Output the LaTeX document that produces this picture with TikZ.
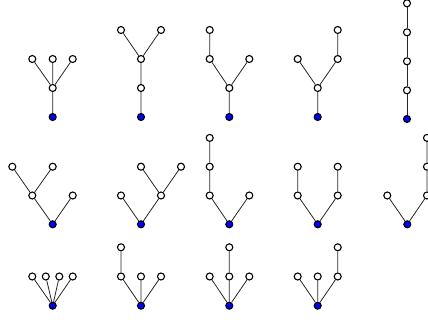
\documentclass[tikz,border=0pt]{standalone}
\begin{document}
\begin{tikzpicture}[x=1pt,y=-1pt,
  vtx/.style={circle,draw=black,fill=white,inner sep=0pt,minimum size=7pt,line width=1.1pt},
  rootv/.style={vtx,fill=blue},
  edg/.style={line width=0.8pt,draw=black!85}]
\useasboundingbox (0,0) rectangle (428,320);
% ---------- Row 1 ----------
% Tree 1
\node[rootv] (t1r) at (52.7,117) {};
\node[vtx] (t1a) at (52.7,88) {};
\node[vtx] (t1b) at (32.3,59) {};
\node[vtx] (t1c) at (52.7,59) {};
\node[vtx] (t1d) at (72.7,59) {};
\draw[edg] (t1r)--(t1a) (t1a)--(t1b) (t1a)--(t1c) (t1a)--(t1d);
% Tree 2
\node[rootv] (t2r) at (141,117) {};
\node[vtx] (t2a) at (141,88) {};
\node[vtx] (t2b) at (141,59) {};
\node[vtx] (t2c) at (121,30) {};
\node[vtx] (t2d) at (161,30) {};
\draw[edg] (t2r)--(t2a) (t2a)--(t2b) (t2b)--(t2c) (t2b)--(t2d);
% Tree 3
\node[rootv] (t3r) at (229.3,117) {};
\node[vtx] (t3a) at (229.3,88) {};
\node[vtx] (t3b) at (209.7,59) {};
\node[vtx] (t3c) at (249.3,59) {};
\node[vtx] (t3d) at (209.7,30) {};
\draw[edg] (t3r)--(t3a) (t3a)--(t3b) (t3a)--(t3c) (t3b)--(t3d);
% Tree 4
\node[rootv] (t4r) at (317.7,117) {};
\node[vtx] (t4a) at (317.7,88) {};
\node[vtx] (t4b) at (297.7,59) {};
\node[vtx] (t4c) at (337.7,59) {};
\node[vtx] (t4d) at (337.7,30) {};
\draw[edg] (t4r)--(t4a) (t4a)--(t4b) (t4a)--(t4c) (t4c)--(t4d);
% Tree 5
\node[rootv] (t5r) at (407,119) {};
\node[vtx] (t5a) at (407,90.3) {};
\node[vtx] (t5b) at (407,61.3) {};
\node[vtx] (t5c) at (407,32.3) {};
\node[vtx] (t5d) at (407,3.3) {};
\draw[edg] (t5r)--(t5a) (t5a)--(t5b) (t5b)--(t5c) (t5c)--(t5d);
% ---------- Row 2 ----------
% Tree 6
\node[rootv] (t6r) at (52.7,224.3) {};
\node[vtx] (t6a) at (32.3,195.5) {};
\node[vtx] (t6b) at (72.7,195.5) {};
\node[vtx] (t6c) at (12.3,166.7) {};
\node[vtx] (t6d) at (52.7,166.7) {};
\draw[edg] (t6r)--(t6a) (t6r)--(t6b) (t6a)--(t6c) (t6a)--(t6d);
% Tree 7
\node[rootv] (t7r) at (141,224.3) {};
\node[vtx] (t7a) at (121,195.5) {};
\node[vtx] (t7b) at (161,195.5) {};
\node[vtx] (t7c) at (141,166.7) {};
\node[vtx] (t7d) at (181,166.7) {};
\draw[edg] (t7r)--(t7a) (t7r)--(t7b) (t7b)--(t7c) (t7b)--(t7d);
% Tree 8
\node[rootv] (t8r) at (229.3,224.3) {};
\node[vtx] (t8a) at (209.7,195.5) {};
\node[vtx] (t8b) at (249.3,195.5) {};
\node[vtx] (t8c) at (209.7,166.7) {};
\node[vtx] (t8d) at (209.7,137.9) {};
\draw[edg] (t8r)--(t8a) (t8r)--(t8b) (t8a)--(t8c) (t8c)--(t8d);
% Tree 9
\node[rootv] (t9r) at (317.7,224.3) {};
\node[vtx] (t9a) at (297.7,195.5) {};
\node[vtx] (t9b) at (337.7,195.5) {};
\node[vtx] (t9c) at (297.7,166.7) {};
\node[vtx] (t9d) at (337.7,166.7) {};
\draw[edg] (t9r)--(t9a) (t9r)--(t9b) (t9a)--(t9c) (t9b)--(t9d);
% Tree 10
\node[rootv] (t10r) at (407.3,224.3) {};
\node[vtx] (t10a) at (387.3,195.5) {};
\node[vtx] (t10b) at (427,195.5) {};
\node[vtx] (t10c) at (427,166.7) {};
\node[vtx] (t10d) at (427,137.9) {};
\draw[edg] (t10r)--(t10a) (t10r)--(t10b) (t10b)--(t10c) (t10c)--(t10d);
% ---------- Row 3 ----------
% Tree 11
\node[rootv] (t11r) at (52.7,305.7) {};
\node[vtx] (t11a) at (32.3,276.5) {};
\node[vtx] (t11b) at (45.8,276.5) {};
\node[vtx] (t11c) at (59.3,276.5) {};
\node[vtx] (t11d) at (72.7,276.5) {};
\draw[edg] (t11r)--(t11a) (t11r)--(t11b) (t11r)--(t11c) (t11r)--(t11d);
% Tree 12
\node[rootv] (t12r) at (141,305.7) {};
\node[vtx] (t12a) at (121,276.5) {};
\node[vtx] (t12b) at (141,276.5) {};
\node[vtx] (t12c) at (161,276.5) {};
\node[vtx] (t12d) at (121,247.3) {};
\draw[edg] (t12r)--(t12a) (t12r)--(t12b) (t12r)--(t12c) (t12a)--(t12d);
% Tree 13
\node[rootv] (t13r) at (229.3,305.7) {};
\node[vtx] (t13a) at (209.7,276.5) {};
\node[vtx] (t13b) at (229.3,276.5) {};
\node[vtx] (t13c) at (249.3,276.5) {};
\node[vtx] (t13d) at (229.3,247.3) {};
\draw[edg] (t13r)--(t13a) (t13r)--(t13b) (t13r)--(t13c) (t13b)--(t13d);
% Tree 14
\node[rootv] (t14r) at (317.7,305.7) {};
\node[vtx] (t14a) at (297.7,276.5) {};
\node[vtx] (t14b) at (317.7,276.5) {};
\node[vtx] (t14c) at (337.7,276.5) {};
\node[vtx] (t14d) at (337.7,247.3) {};
\draw[edg] (t14r)--(t14a) (t14r)--(t14b) (t14r)--(t14c) (t14c)--(t14d);
\end{tikzpicture}
\end{document}
